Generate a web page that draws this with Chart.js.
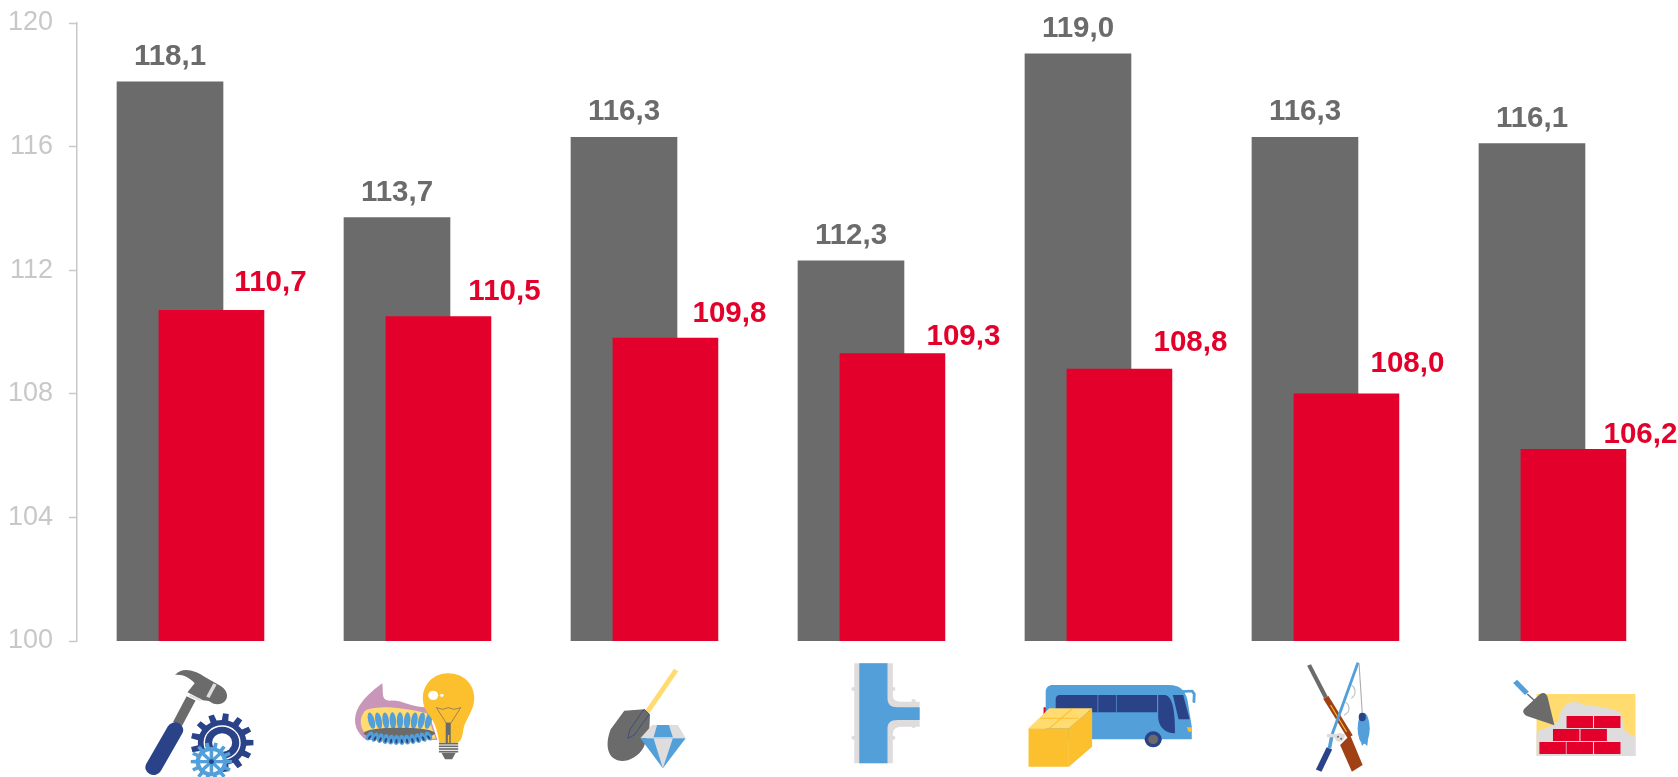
<!DOCTYPE html>
<html><head><meta charset="utf-8">
<style>html,body{margin:0;padding:0;background:#fff;overflow:hidden}canvas{display:block}</style>
<script src="https://cdn.jsdelivr.net/npm/chart.js@4"></script></head>
<body><canvas id="c" width="1678" height="777"></canvas>
<script>
const categories = ["Manufacturing","Energy","Mining","Water","Transport and trade","Agriculture and fishing","Construction"];
const greySeries = [118.1,113.7,116.3,112.3,119.0,116.3,116.1];
const redSeries  = [110.7,110.5,109.8,109.3,108.8,108.0,106.2];
const yTicks = [100,104,108,112,116,120];

const GREY="#6b6b6b",RED="#e3002b",NAVY="#2a4288",BLUE="#529fd9",LGREY="#dedcdc",YEL="#fcbf2d",LYEL="#ffdb70";
const fmt=v=>v.toFixed(1).replace('.',',');
const redLabelDx=[59,66,64,71,71,61,67], redLabelDy=[28,25,24,17,26,30,15];
const iconOrigin=[0,0,560,560,560,1118,1118];

function line(c,pts,w,col,cap){c.beginPath();c.moveTo(pts[0],pts[1]);for(let i=2;i<pts.length;i+=2)c.lineTo(pts[i],pts[i+1]);c.lineWidth=w;c.strokeStyle=col;c.lineCap=cap||'butt';c.lineJoin='round';c.stroke();}
function poly(c,pts,col){c.beginPath();c.moveTo(pts[0],pts[1]);for(let i=2;i<pts.length;i+=2)c.lineTo(pts[i],pts[i+1]);c.closePath();c.fillStyle=col;c.fill();}
function path(c,d,col){c.fillStyle=col;c.fill(new Path2D(d));}
function circ(c,x,y,r,col){c.beginPath();c.arc(x,y,r,0,Math.PI*2);c.fillStyle=col;c.fill();}
function ell(c,x,y,rx,ry,rot,col){c.beginPath();c.ellipse(x,y,rx,ry,rot,0,Math.PI*2);c.fillStyle=col;c.fill();}
function gear(c,x,y,ro,ri,n,col){c.beginPath();for(let k=0;k<n;k++){const a=k*2*Math.PI/n,s=Math.PI/n;
 [[ri,-s],[ri,-s*.55],[ro,-s*.38],[ro,s*.38],[ri,s*.55]].forEach(([r,o],j)=>{const px=x+r*Math.cos(a+o),py=y+r*Math.sin(a+o);(k==0&&j==0)?c.moveTo(px,py):c.lineTo(px,py);});}
 c.closePath();c.fillStyle=col;c.fill();}

const icons=[
 c=>{ // hammer and gears
  line(c,[535,235,497,312],28,GREY);
  line(c,[490,330,430,442],46,NAVY,'round');
  path(c,"M490 165 C510 140 545 150 575 172 L618 198 C640 212 642 240 622 250 C608 256 596 252 585 243 L568 241 L525 217 L545 190 C530 172 510 162 490 165 Z",GREY);
  line(c,[602,192,582,232],10,LGREY);
  line(c,[530,226,562,240],6,LGREY);
  gear(c,622,368,88,68,13,NAVY);
  c.beginPath();c.arc(622,368,50,0,Math.PI*2);c.lineWidth=4;c.strokeStyle="#fff";c.stroke();
  circ(c,622,368,28,"#fff");
  gear(c,592,425,58,44,14,BLUE);
  circ(c,592,425,32,"#fff");
  for(let k=0;k<8;k++){const a=k*Math.PI/4;line(c,[592,425,592+36*Math.cos(a),425+36*Math.sin(a)],10,BLUE);}
  circ(c,592,425,7,NAVY);
 },
 c=>{ // gas burner and bulb
  path(c,"M1070 190 C1075 215 1065 240 1090 242 C1125 238 1150 262 1195 262 L1225 360 L1025 360 C1000 340 985 310 1000 270 C1012 240 1045 210 1070 190 Z","#c796b8");
  path(c,"M1025 270 C1060 255 1130 262 1195 280 L1220 355 C1150 375 1060 375 1030 350 C1010 330 1000 295 1025 270 Z",LYEL);
  for(let k=0;k<9;k++){ell(c,1040+k*20,302,9,25,(k-4)*0.06,BLUE);}
  ell(c,1118,340,100,17,0,GREY);
  for(let k=0;k<12;k++){const x=1035+k*15,y=348+12*Math.sin(k/11*Math.PI);ell(c,x,y,8,15,(5.5-k)*0.1,BLUE);ell(c,x,y+4,3,7,(5.5-k)*0.1,NAVY);}
  path(c,"M1255 160 C1300 160 1328 195 1328 235 C1328 270 1305 295 1298 325 C1295 350 1290 368 1280 368 L1230 368 C1225 340 1222 315 1205 290 C1190 270 1184 255 1184 235 C1184 195 1212 160 1255 160 Z",YEL);
  circ(c,1213,226,14,"#fff");circ(c,1237,226,5,"#fff");
  line(c,[1222,263,1240,268,1255,263,1272,268,1290,263],2,GREY);
  line(c,[1222,263,1250,310,1262,310,1290,263],2,GREY);
  poly(c,[1248,308,1262,308,1262,372,1248,372],GREY);
  poly(c,[1254,345,1258,345,1258,372,1254,372],YEL);
  for(let k=0;k<4;k++)line(c,[1229,371+k*8,1283,371+k*8],5,GREY);
  poly(c,[1236,398,1276,398,1266,418,1246,418],GREY);
 },
 c=>{ // spade and diamond
  line(c,[325,150,245,275],14,LYEL);
  path(c,"M180 272 L237 268 L252 284 L250 330 L235 380 C215 420 175 430 155 418 C130 405 128 365 142 328 Z",GREY);
  c.beginPath();c.moveTo(235,268);c.lineTo(250,282);c.lineTo(208,345);c.lineTo(190,355);c.lineTo(195,330);c.closePath();c.lineWidth=2;c.strokeStyle=NAVY;c.stroke();
  poly(c,[258,315,330,315,352,355,225,355],LGREY);
  poly(c,[272,315,305,315,316,352,262,352],BLUE);
  poly(c,[225,355,352,355,288,445],BLUE);
  poly(c,[262,355,316,355,288,445],LGREY);
 },
 c=>{ // pipe tee
  const bumps=[[822,207],[933,207],[822,353],[933,353],[990,243],[990,318]];
  bumps.forEach(b=>circ(c,b[0],b[1],6,LGREY));
  path(c,"M824 130 L932 130 L932 225 C932 240 940 245 955 245 L1007 245 L1007 320 L955 320 C940 320 932 328 932 345 L932 430 L824 430 Z",LGREY);
  path(c,"M838 130 L917 130 L917 235 C917 252 925 262 945 262 L1007 262 L1007 300 L945 300 C925 300 917 310 917 325 L917 430 L838 430 Z",BLUE);
 },
 c=>{ // bus and parcel
  poly(c,[1354,262,1364,262,1364,285,1354,285],RED);
  path(c,"M1380 195 L1705 195 C1735 195 1750 210 1757 240 L1769 320 L1769 358 L1360 358 L1360 215 C1360 203 1368 195 1380 195 Z",BLUE);
  path(c,"M1400 225 L1672 225 L1672 277 L1388 277 L1388 237 C1388 230 1393 225 1400 225 Z",NAVY);
  line(c,[1506,225,1506,277],2,BLUE);line(c,[1558,225,1558,277],2,BLUE);
  path(c,"M1675 225 L1695 225 C1715 230 1722 270 1722 340 C1695 340 1675 320 1675 290 Z",NAVY);
  poly(c,[1716,225,1745,225,1763,298,1732,298],NAVY);
  line(c,[1740,215,1770,213,1776,222,1775,245],8,BLUE,'round');
  poly(c,[1755,322,1769,322,1769,335,1760,335],YEL);
  circ(c,1661,358,24,NAVY);circ(c,1661,358,14,GREY);
  poly(c,[1312,325,1425,325,1425,440,1312,440],YEL);
  poly(c,[1425,325,1490,265,1490,380,1425,440],YEL);
  poly(c,[1312,325,1425,325,1490,265,1370,265],LYEL);
  line(c,[1345,295,1452,295],3,YEL);line(c,[1370,325,1436,265],3,YEL);
 },
 c=>{ // rifle and fishing rod
  line(c,[535,135,582,232],12,GREY);
  line(c,[582,232,650,350],17,"#a04014");
  line(c,[595,255,640,335],3,YEL);
  poly(c,[622,375,650,345,685,435,655,455],"#a04014");
  line(c,[672,128,600,342],8,BLUE);
  line(c,[592,385,562,452],17,NAVY);
  line(c,[600,342,592,385],10,BLUE);
  line(c,[585,347,635,347],10,LGREY);
  circ(c,620,352,13,LGREY);circ(c,616,350,3,GREY);circ(c,625,356,3,GREY);
  line(c,[675,130,684,280],3,"#aaa");
  c.lineWidth=3;c.strokeStyle="#bbb";c.beginPath();c.arc(640,215,24,-1,1);c.stroke();c.beginPath();c.arc(625,265,22,-1,1.2);c.stroke();
  ell(c,688,325,17,46,0,BLUE);
  poly(c,[680,360,700,360,698,378,690,370,683,378],BLUE);
  ell(c,684,291,10,13,0,NAVY);
 },
 c=>{ // trowel and bricks
  poly(c,[1172,222,1449,222,1449,408,1172,408],LYEL);
  path(c,"M1172 408 L1172 335 C1195 325 1215 320 1235 300 C1240 260 1260 240 1290 248 C1310 262 1380 255 1408 280 C1420 300 1400 335 1449 350 L1449 408 Z",LGREY);
  const rows=[[1256,288],[1333,288],[1218,327],[1295,327],[1180,366],[1256,366],[1333,366]];
  rows.forEach(r=>{c.fillStyle=RED;c.fillRect(r[0],r[1],74,36);});
  line(c,[1146,222,1170,245],4,GREY);
  line(c,[1112,184,1145,220],15,BLUE);
  path(c,"M1182 222 C1192 215 1200 220 1203 232 L1222 316 L1145 288 C1134 282 1131 272 1140 264 Z",GREY);
 }
];

const overlay={id:'overlay',afterDatasetsDraw(ch){
 const c=ch.ctx,x=ch.scales.x;
 c.save();c.textAlign='center';c.textBaseline='middle';c.font='bold 29.5px "Liberation Sans"';
 ch.getDatasetMeta(0).data.forEach((b,i)=>{c.fillStyle=GREY;c.fillText(fmt(greySeries[i]),b.x,b.y-25);});
 ch.getDatasetMeta(1).data.forEach((b,i)=>{c.fillStyle=RED;c.fillText(fmt(redSeries[i]),b.x+redLabelDx[i],b.y-redLabelDy[i]);});
 c.restore();
 icons.forEach((draw,i)=>{
  const ref=190.5+227*i;
  c.save();
  c.translate(x.getPixelForValue(i)-ref+iconOrigin[i],620);
  c.scale(1/2.8,1/3);
  draw(c);
  c.restore();
 });
}};

const spread=0.0903;
new Chart(document.getElementById('c'),{
 type:'bar',
 data:{datasets:[
  {label:'Grey',order:2,barThickness:106,data:greySeries.map((v,i)=>({x:i-spread,y:v})),backgroundColor:GREY},
  {label:'Red',order:1,barThickness:105,data:redSeries.map((v,i)=>({x:i+spread+0.002,y:v})),backgroundColor:RED}
 ]},
 options:{
  responsive:false,animation:false,
  layout:{autoPadding:false,padding:{top:23,bottom:136,left:0,right:0}},
  datasets:{bar:{grouped:false,borderWidth:0}},
  plugins:{legend:{display:false},tooltip:{enabled:false}},
  scales:{
   x:{type:'linear',offset:false,min:-0.5,max:6.553,display:false,grid:{display:false}},
   y:{min:100,max:120,afterFit(s){s.width=77;s.paddingTop=0;s.paddingBottom=0;s.paddingLeft=0;s.paddingRight=0;},
      afterBuildTicks(s){s.ticks=yTicks.map(v=>({value:v}));},
      border:{color:'#c8c8c8',width:1.5},
      grid:{drawOnChartArea:false,drawTicks:true,tickLength:8,tickColor:'#c8c8c8',tickWidth:1.5},
      ticks:{color:'#c8c8c8',padding:16,font:{family:'"Liberation Sans"',size:27}}}
  }
 },
 plugins:[overlay]
});
</script></body></html>
